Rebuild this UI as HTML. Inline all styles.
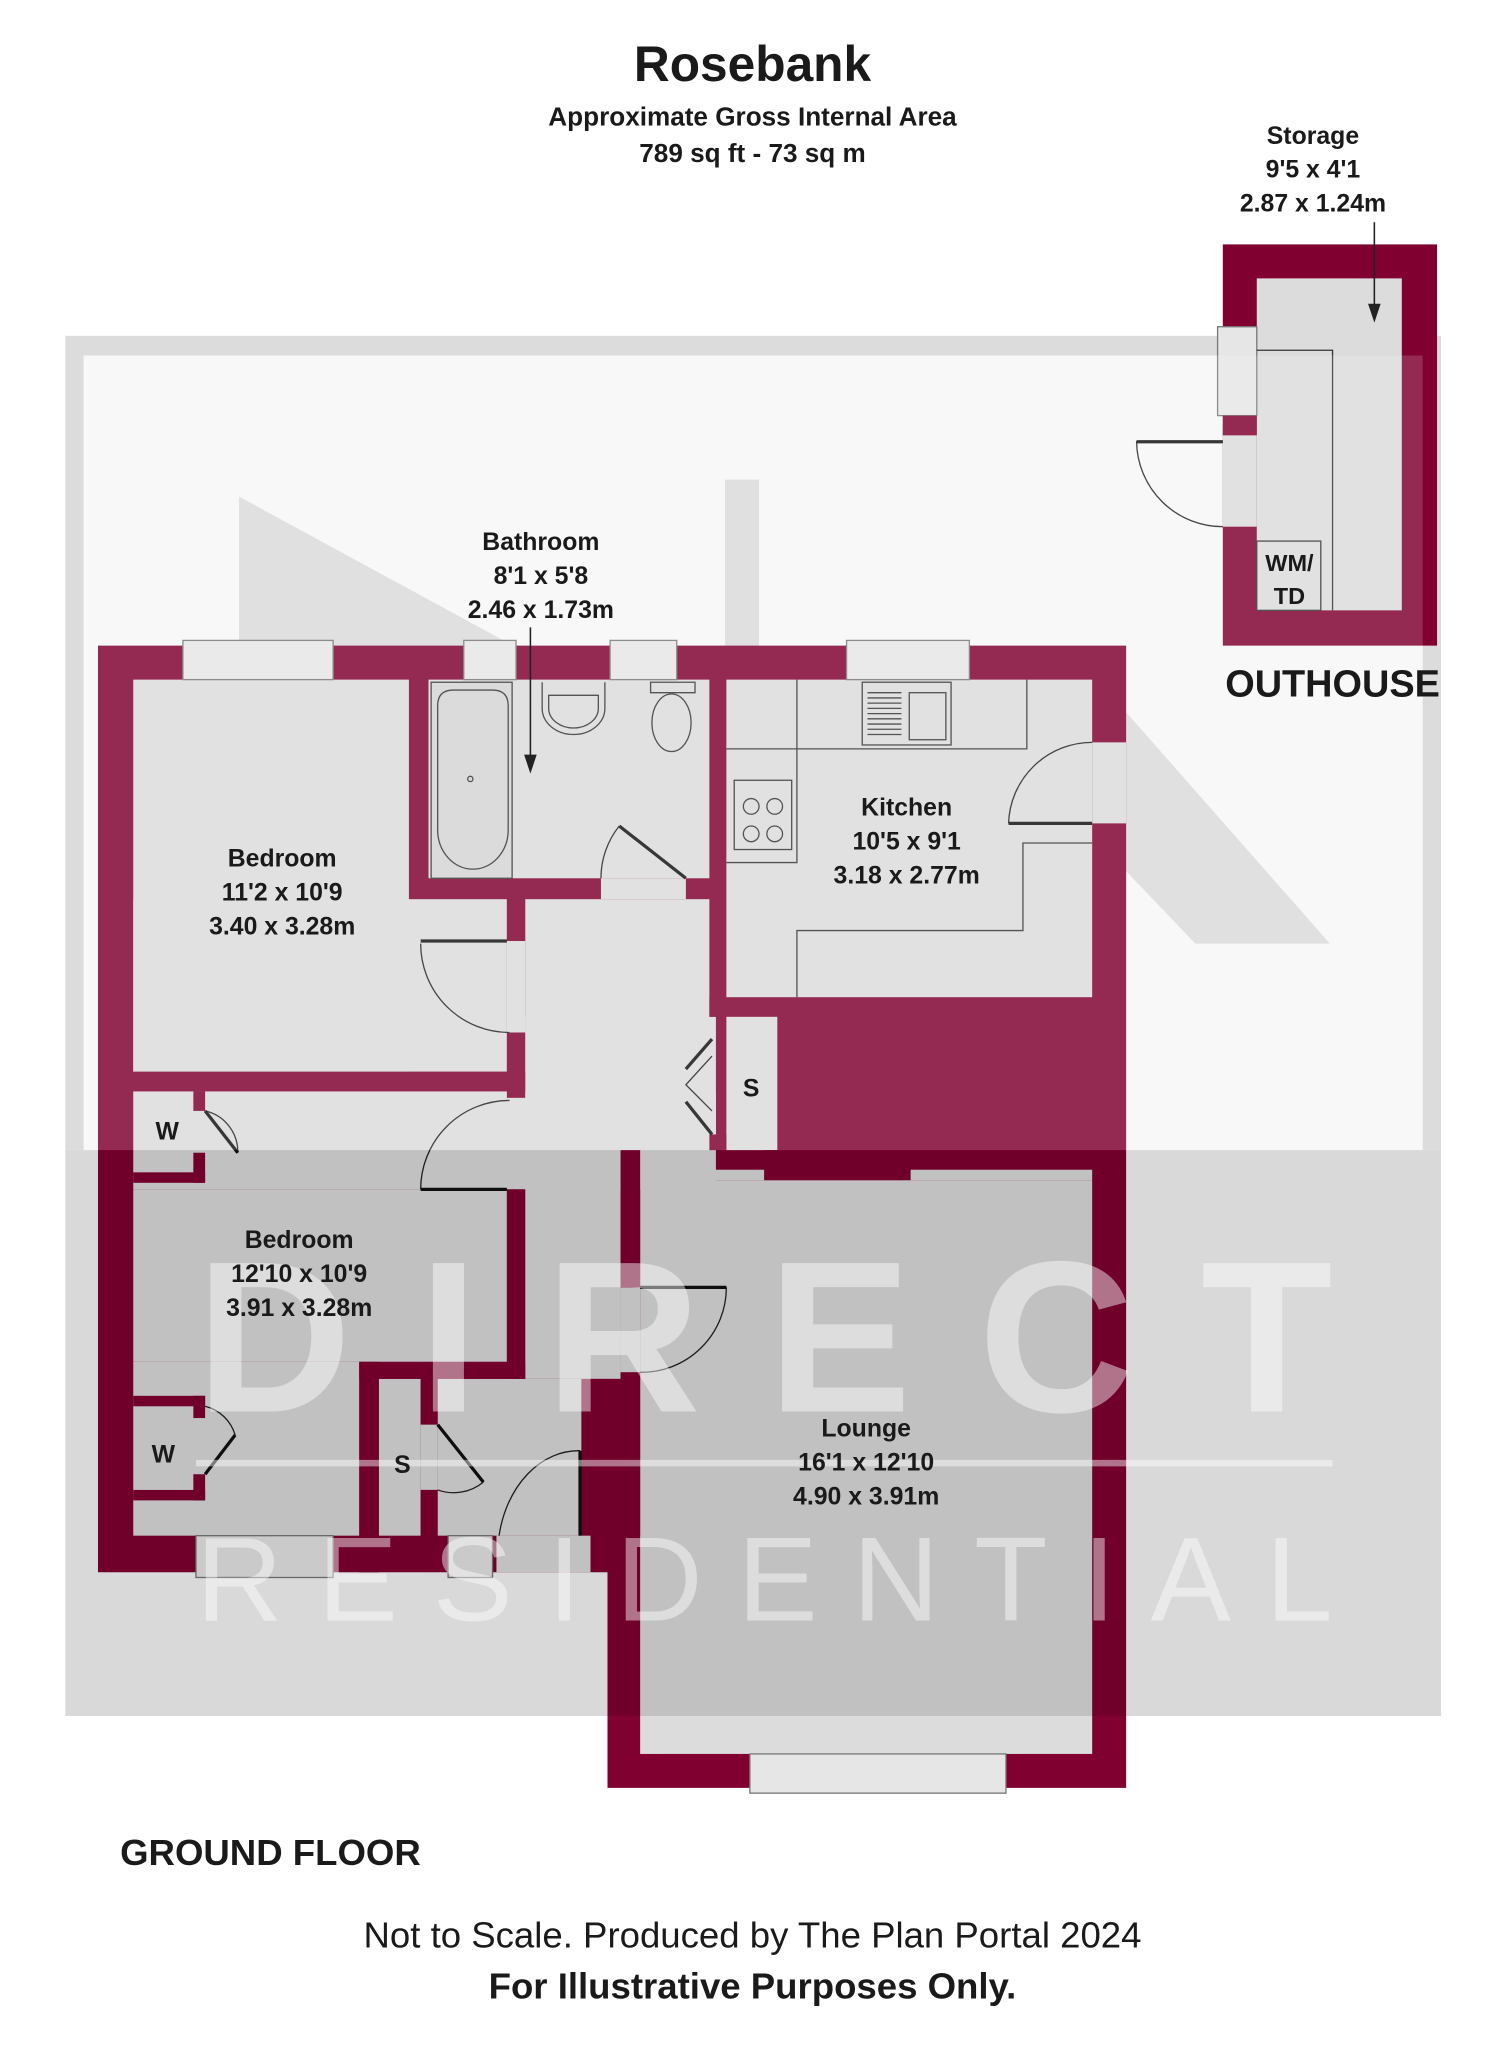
<!DOCTYPE html>
<html><head><meta charset="utf-8"><style>
html,body{margin:0;padding:0;background:#fff}
svg{display:block}
text{font-family:"Liberation Sans",sans-serif;font-weight:bold;fill:#1a1a1a;text-anchor:middle}
</style></head><body>
<svg width="1505" height="2048" viewBox="0 0 1152 1567" preserveAspectRatio="none" xmlns="http://www.w3.org/2000/svg">
<rect width="1152" height="1567" fill="#fff"/>
<!-- watermark base -->
<rect x="50" y="257" width="1053" height="623" fill="#dcdcdc"/>
<rect x="64" y="272" width="1025" height="608" fill="#f7f7f7"/>
<rect x="50" y="880" width="1053" height="433" fill="#f7f7f7"/>
<!-- watermark A shapes -->
<g fill="#dadada">
<polygon points="183,380 183,760 505,555"/>
<rect x="555" y="367" width="26" height="420"/>
<polygon points="760,560 840,520 1018,722 915,722"/>
</g>
<!-- footprint walls -->
<g fill="#800030">
<polygon points="75,494 862,494 862,1368 465,1368 465,1203 75,1203"/>
<rect x="936" y="187" width="164" height="307"/>
</g>
<!-- floors -->
<g fill="#dcdcdc">
<rect x="102" y="520" width="211" height="300"/>
<rect x="102" y="688" width="286" height="132"/>
<rect x="328" y="520" width="215" height="152"/>
<rect x="402" y="688" width="141" height="147"/>
<rect x="460" y="672" width="65" height="16"/>
<rect x="388" y="720" width="14" height="70"/>
<rect x="402" y="778" width="146" height="102"/>
<rect x="102" y="835" width="446" height="75"/>
<rect x="102" y="910" width="286" height="132"/>
<rect x="102" y="1042" width="173" height="133"/>
<rect x="402" y="880" width="73" height="175"/>
<rect x="335" y="1055" width="110" height="120"/>
<rect x="290" y="1055" width="32" height="120"/>
<rect x="322" y="1090" width="13" height="50"/>
<rect x="380" y="1175" width="72" height="28"/>
<rect x="556" y="520" width="280" height="243"/>
<rect x="836" y="568" width="26" height="62"/>
<rect x="556" y="778" width="39" height="102"/>
<rect x="490" y="903" width="346" height="439"/>
<rect x="490" y="895" width="95" height="8"/><rect x="697" y="895" width="139" height="8"/>
<rect x="475" y="985" width="15" height="65"/>
<rect x="962" y="213" width="111" height="254"/>
<rect x="936" y="333" width="26" height="70"/>
</g>
<!-- wall pieces -->
<g fill="#800030">
<rect x="102" y="820" width="300" height="15"/>
<rect x="388" y="688" width="14" height="32"/>
<rect x="388" y="790" width="14" height="50"/>
<rect x="388" y="910" width="14" height="145"/>
<rect x="275" y="1042" width="127" height="13"/>
<rect x="275" y="1042" width="15" height="161"/>
<rect x="322" y="1055" width="13" height="35"/><rect x="322" y="1140" width="13" height="35"/>
<rect x="102" y="897" width="55" height="8"/><rect x="148" y="835" width="9" height="15"/><rect x="148" y="882" width="9" height="23"/>
<rect x="102" y="1068" width="55" height="8"/><rect x="102" y="1140" width="55" height="8"/><rect x="148" y="1068" width="9" height="17"/><rect x="148" y="1128" width="9" height="20"/>
<rect x="543" y="763" width="13" height="15"/><rect x="543" y="868" width="13" height="12"/>
<rect x="475" y="880" width="15" height="105"/><rect x="475" y="1050" width="15" height="125"/>
<rect x="585" y="880" width="112" height="23"/>
</g>
<!-- windows -->
<g fill="#e6e6e6" stroke="#777" stroke-width="1">
<rect x="140" y="490" width="115" height="30"/><rect x="355" y="490" width="40" height="30"/>
<rect x="467" y="490" width="51" height="30"/><rect x="648" y="490" width="94" height="30"/>
<rect x="150" y="1175" width="105" height="32"/><rect x="343" y="1175" width="34" height="32"/>
<rect x="574" y="1342" width="196" height="30"/>
<rect x="932" y="250" width="30" height="68"/>
</g>
<rect x="936" y="318" width="26" height="15" fill="#800030"/>
<!-- fixtures -->
<g fill="none" stroke="#333" stroke-width="1">
<rect x="330" y="522" width="62" height="150" fill="#d4d4d4"/>
<path d="M335,540 q0,-12 12,-12 h30 q12,0 12,12 v95 a27,30 0 0 1 -54,0 z"/>
<circle cx="360" cy="596" r="2"/>
<path d="M415,522 v20 a24,20 0 0 0 48,0 v-20"/>
<path d="M420,532 h38 v10 a19,15 0 0 1 -38,0 z"/>
<ellipse cx="514" cy="553" rx="15" ry="22"/><path d="M498,522 h34 v8 h-34z"/>
<rect x="660" y="522" width="68" height="48"/><rect x="696" y="530" width="28" height="36"/>
<path d="M664,530 h26 M664,534 h26 M664,538 h26 M664,542 h26 M664,546 h26 M664,550 h26 M664,554 h26 M664,558 h26 M664,562 h26"/>
<rect x="562" y="597" width="44" height="53"/><circle cx="575" cy="617" r="6"/><circle cx="593" cy="617" r="6"/><circle cx="575" cy="638" r="6"/><circle cx="593" cy="638" r="6"/>
<path d="M556,573 H610 V660 H556 M610,573 V520 M610,573 H786 V520"/>
<path d="M836,645 H783 V712 H610 V763"/>
<path d="M962,268 H1020 V467"/>
<rect x="962" y="414" width="49" height="53"/>
</g>
<!-- doors -->
<g fill="none" stroke="#222" stroke-width="1">
<path d="M322,722 A68,68 0 0 0 390,790"/>
<path d="M460,672 A64,64 0 0 1 474,632"/>
<path d="M322,910 A68,68 0 0 1 390,842"/>
<path d="M157,850 A32,32 0 0 1 182,882"/>
<path d="M157,1076 A32,32 0 0 1 180,1098"/>
<path d="M335,1140 A36,36 0 0 0 370,1134"/>
<path d="M382,1175 A62,80 0 0 1 444,1110"/>
<path d="M490,1050 A65,65 0 0 0 556,985"/>
<path d="M772,630 A64,64 0 0 1 836,568"/>
<path d="M936,338 h-66 A66,66 0 0 0 936,403"/>
<path d="M545,808 l-20,22 l20,20"/>
</g>
<g stroke="#111" stroke-width="2.5" fill="none">
<path d="M474,632 L525,672"/><path d="M322,720 H388"/><path d="M322,910 H388"/>
<path d="M157,850 L182,882"/><path d="M157,1128 L180,1098"/><path d="M335,1090 L370,1134"/>
<path d="M444,1175 V1110"/><path d="M490,985 H556"/><path d="M772,630 H836"/><path d="M870,338 H936"/>
<path d="M545,795 L525,818 M545,868 L525,843"/>
</g>
<!-- watermark overlays -->
<rect x="64" y="272" width="1025" height="608" fill="#fff" opacity="0.16"/>
<rect x="50" y="880" width="1053" height="433" fill="#000" opacity="0.12"/>
<g opacity="0.45">
<text x="150" y="1080" font-size="165" textLength="870" lengthAdjust="spacing" style="fill:#fff;text-anchor:start">DIRECT</text>
<rect x="150" y="1117" width="870" height="5" fill="#fff"/>
<text x="150" y="1240" font-size="92" textLength="870" lengthAdjust="spacing" style="fill:#fff;font-weight:normal;text-anchor:start">RESIDENTIAL</text>
</g>
<!-- arrows -->
<g stroke="#222" stroke-width="1.2" fill="#222">
<path d="M406,480 V580" fill="none"/><path d="M402,578 L406,590 L410,578z"/>
<path d="M1052,170 V235" fill="none"/><path d="M1048,233 L1052,245 L1056,233z"/>
</g>
<!-- text -->
<text x="576" y="62" font-size="38">Rosebank</text>
<text x="576" y="96" font-size="20">Approximate Gross Internal Area</text>
<text x="576" y="124" font-size="20">789 sq ft - 73 sq m</text>
<text x="1005" y="110" font-size="19">Storage</text>
<text x="1005" y="136" font-size="19">9'5 x 4'1</text>
<text x="1005" y="162" font-size="19">2.87 x 1.24m</text>
<text x="987" y="437" font-size="18">WM/</text>
<text x="987" y="462" font-size="18">TD</text>
<text x="1020" y="533" font-size="29">OUTHOUSE</text>
<text x="414" y="421" font-size="19">Bathroom</text>
<text x="414" y="447" font-size="19">8'1 x 5'8</text>
<text x="414" y="473" font-size="19">2.46 x 1.73m</text>
<text x="216" y="663" font-size="19">Bedroom</text>
<text x="216" y="689" font-size="19">11'2 x 10'9</text>
<text x="216" y="715" font-size="19">3.40 x 3.28m</text>
<text x="694" y="624" font-size="19">Kitchen</text>
<text x="694" y="650" font-size="19">10'5 x 9'1</text>
<text x="694" y="676" font-size="19">3.18 x 2.77m</text>
<text x="229" y="955" font-size="19">Bedroom</text>
<text x="229" y="981" font-size="19">12'10 x 10'9</text>
<text x="229" y="1007" font-size="19">3.91 x 3.28m</text>
<text x="663" y="1099" font-size="19">Lounge</text>
<text x="663" y="1125" font-size="19">16'1 x 12'10</text>
<text x="663" y="1151" font-size="19">4.90 x 3.91m</text>
<text x="575" y="839" font-size="19">S</text>
<text x="308" y="1127" font-size="19">S</text>
<text x="128" y="872" font-size="19">W</text>
<text x="125" y="1119" font-size="19">W</text>
<text x="207" y="1427" font-size="28">GROUND FLOOR</text>
<text x="576" y="1490" font-size="28" style="font-weight:normal">Not to Scale. Produced by The Plan Portal 2024</text>
<text x="576" y="1529" font-size="28">For Illustrative Purposes Only.</text>
</svg>
</body></html>
